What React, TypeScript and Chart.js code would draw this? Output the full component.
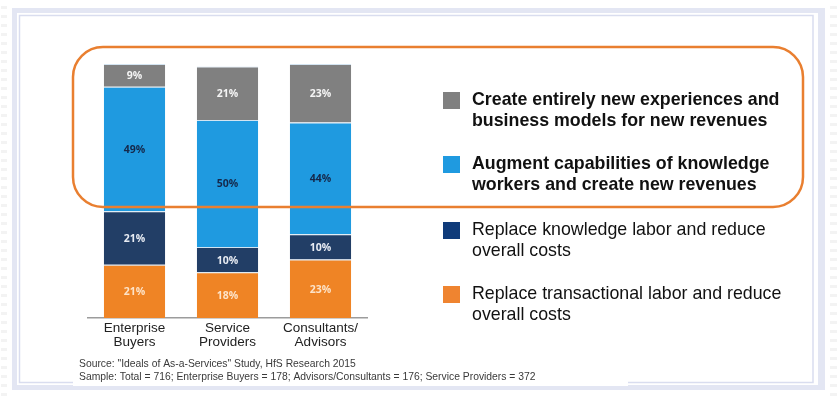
import { useEffect, useRef } from "react";
import { Chart, registerables } from "chart.js";

Chart.register(...registerables);

// ---- Data ----
const categories: string[][] = [
  ["Enterprise", "Buyers"],
  ["Service", "Providers"],
  ["Consultants/", "Advisors"],
];

// stacked bottom -> top
const replaceTransactional = [21, 18, 23];
const replaceKnowledge = [21, 10, 10];
const augmentCapabilities = [49, 50, 44];
const createNew = [9, 21, 23];

const seriesNames = [
  "Replace transactional labor and reduce overall costs",
  "Replace knowledge labor and reduce overall costs",
  "Augment capabilities of knowledge workers and create new revenues",
  "Create entirely new experiences and business models for new revenues",
];

// legend (top -> bottom as shown)
const legendLines: string[][] = [
  ["Create entirely new experiences and", "business models for new revenues"],
  ["Augment capabilities of knowledge", "workers and create new revenues"],
  ["Replace knowledge labor and reduce", "overall costs"],
  ["Replace transactional labor and reduce", "overall costs"],
];
const legendBold = [true, true, false, false];

const sourceLines = [
  'Source: "Ideals of As-a-Services" Study, HfS Research 2015',
  "Sample: Total = 716; Enterprise Buyers = 178; Advisors/Consultants = 176; Service Providers = 372",
];

// ---- Styles ----
const COLORS = {
  transactional: "#ef8425",
  knowledge: "#223e66",
  augment: "#1f9ae0",
  create: "#808080",
};
const legendColors = [COLORS.create, COLORS.augment, "#0f3b7a", "#ef8430"];
const labelColors = ["#fde3c8", "#e8ecf3", "#15284a", "#f4f4f4"];

const W = 839;
const H = 399;

const framePlugin = {
  id: "framePlugin",
  beforeDraw(chart: any) {
    const ctx = chart.ctx as CanvasRenderingContext2D;
    ctx.save();
    ctx.fillStyle = "#ffffff";
    ctx.fillRect(0, 0, W, H);
    // faint edge stripes
    ctx.fillStyle = "#f3f3f3";
    for (let y = 6; y < H; y += 9) {
      ctx.fillRect(1, y, 6, 3);
      ctx.fillRect(830, y, 7, 3);
    }
    // outer lavender frame
    ctx.fillStyle = "#e3e6f3";
    ctx.fillRect(12, 8, 825 - 12, 390 - 8);
    ctx.fillStyle = "#ffffff";
    ctx.fillRect(17, 13, 818 - 17, 385 - 13);
    ctx.strokeStyle = "#d9ddef";
    ctx.lineWidth = 1.5;
    ctx.strokeRect(19.5, 15.5, 813 - 19.5, 382.5 - 15.5);
    ctx.fillStyle = "#ffffff";
    ctx.fillRect(73, 378, 555, 8);
    ctx.restore();
  },
  afterDraw(chart: any) {
    const ctx = chart.ctx as CanvasRenderingContext2D;
    ctx.save();
    // orange rounded highlight
    ctx.strokeStyle = "#e97f30";
    ctx.lineWidth = 2.5;
    ctx.beginPath();
    (ctx as any).roundRect(73, 47, 803 - 73, 207 - 47, 30);
    ctx.stroke();

    // legend
    const tops = [92, 156, 222, 286];
    legendLines.forEach((lines, i) => {
      const t = tops[i];
      ctx.fillStyle = legendColors[i];
      ctx.fillRect(443, t, 17, 17);
      ctx.fillStyle = "#111111";
      ctx.font = `${legendBold[i] ? "bold " : ""}17.8px "Liberation Sans", Arial, sans-serif`;
      ctx.textBaseline = "middle";
      ctx.textAlign = "left";
      lines.forEach((ln, k) => {
        ctx.fillText(ln, 472, t + 8 + k * 21);
      });
    });

    // source
    ctx.fillStyle = "#3a3a3a";
    ctx.font = '10.35px "Liberation Sans", Arial, sans-serif';
    ctx.textBaseline = "middle";
    sourceLines.forEach((ln, k) => ctx.fillText(ln, 79, 364 + k * 13));
    ctx.restore();
  },
};

const barLabelPlugin = {
  id: "barLabelPlugin",
  afterDatasetsDraw(chart: any) {
    const ctx = chart.ctx as CanvasRenderingContext2D;
    ctx.save();
    ctx.font = 'bold 10.5px "Open Sans", "DejaVu Sans", sans-serif';
    ctx.textAlign = "center";
    ctx.textBaseline = "middle";
    chart.data.datasets.forEach((ds: any, di: number) => {
      const meta = chart.getDatasetMeta(di);
      meta.data.forEach((el: any, i: number) => {
        const v = ds.data[i];
        ctx.fillStyle = labelColors[di];
        ctx.fillText(`${v}%`, el.x, (el.y + el.base) / 2 + 1);
      });
    });
    ctx.restore();
  },
};

export default function App() {
  const ref = useRef<HTMLCanvasElement | null>(null);
  useEffect(() => {
    document.body.style.margin = "0";
    const canvas = ref.current!;
    const mk = (label: string, data: number[], color: string) => ({
      label,
      data,
      backgroundColor: color,
      borderColor: "#d3e4f1",
      borderWidth: { top: 1, left: 0, right: 0, bottom: 0 },
      borderSkipped: false,
      barPercentage: 0.66,
      categoryPercentage: 1,
    });
    const chart = new Chart(canvas, {
      type: "bar",
      data: {
        labels: categories,
        datasets: [
          mk(seriesNames[0], replaceTransactional, COLORS.transactional),
          mk(seriesNames[1], replaceKnowledge, COLORS.knowledge),
          mk(seriesNames[2], augmentCapabilities, COLORS.augment),
          mk(seriesNames[3], createNew, COLORS.create),
        ] as any,
      },
      options: {
        animation: false,
        responsive: false,
        maintainAspectRatio: false,
        layout: { padding: { left: 88, right: W - 367, top: 64, bottom: 0 } },
        plugins: { legend: { display: false }, tooltip: { enabled: false } },
        scales: {
          x: {
            stacked: true,
            grid: { display: false, drawTicks: false },
            border: { display: true, color: "#9c9c9c", width: 1.5 },
            ticks: {
              color: "#222222",
              padding: 4,
              font: { family: '"Liberation Sans", Arial, sans-serif', size: 13.5, lineHeight: 1.0 },
            },
            afterFit: (scale: any) => {
              scale.height = H - 318;
            },
          },
          y: { stacked: true, display: false, min: 0, max: 100 },
        },
      },
      plugins: [framePlugin, barLabelPlugin],
    });
    return () => chart.destroy();
  }, []);
  return (
    <div style={{ width: W, height: H }}>
      <canvas ref={ref} width={W} height={H} style={{ display: "block" }} />
    </div>
  );
}
